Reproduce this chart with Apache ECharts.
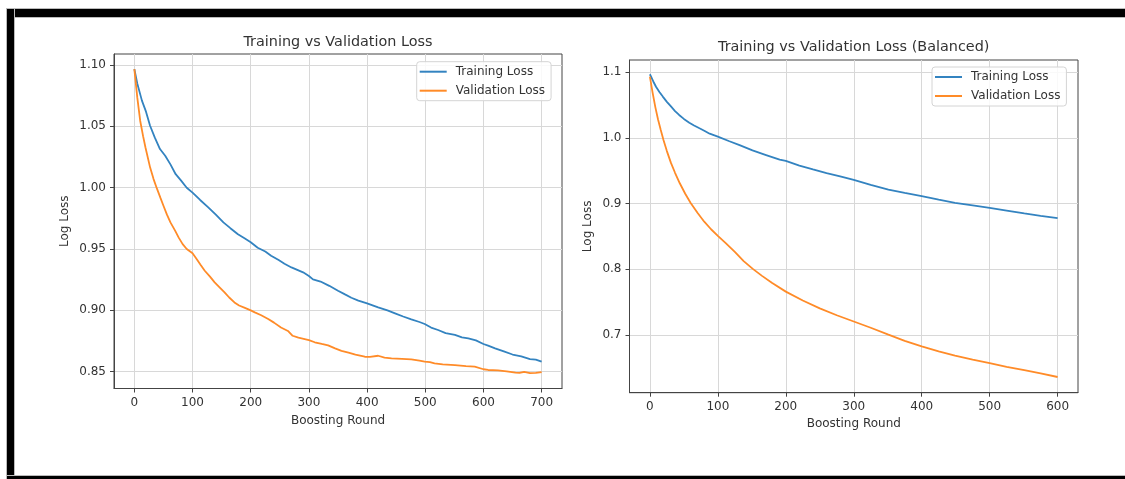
<!DOCTYPE html>
<html><head><meta charset="utf-8">
<script src="https://cdn.jsdelivr.net/npm/echarts@6/dist/echarts.min.js"></script>
<style>html,body{margin:0;padding:0;background:#fff}#c{width:1125px;height:479px}</style>
</head><body><div id="c"></div>
<script>
// ---- Left chart data ----
const roundsA = [0,5,13,20,27,35,44,53,62,71,80,90,100,113,127,140,153,165,178,190,200,212,225,235,248,258,270,280,290,300,307,320,335,350,362,373,385,400,419,435,448,462,476,490,499,510,522,535,551,563,574,587,600,608,620,635,650,665,680,690,700];
const trainA = [1.0967,1.085,1.071,1.062,1.0505,1.041,1.0315,1.026,1.019,1.011,1.006,1.000,0.996,0.990,0.984,0.978,0.9717,0.967,0.962,0.9585,0.9555,0.951,0.948,0.9446,0.941,0.938,0.935,0.933,0.931,0.928,0.9253,0.9235,0.920,0.916,0.913,0.9103,0.908,0.9057,0.9024,0.900,0.8976,0.895,0.8927,0.8905,0.8889,0.886,0.884,0.8815,0.880,0.878,0.8772,0.8755,0.8726,0.8712,0.869,0.8665,0.864,0.8625,0.8603,0.8598,0.8582];
const roundsAV = [0,5,10,15,19,27,33,39,45,50,56,62,70,76,83,90,100,107,114,121,130,138,146,155,163,172,180,190,200,207,218,230,240,252,264,272,282,300,310,322,333,345,356,368,380,396,405,419,430,442,460,476,490,499,508,516,530,551,570,585,600,608,625,640,655,662,670,680,690,700];
const validA = [1.0967,1.0736,1.0546,1.042,1.033,1.0166,1.007,0.999,0.9915,0.9853,0.978,0.9717,0.965,0.9595,0.954,0.950,0.9465,0.9418,0.937,0.9323,0.9275,0.9228,0.919,0.9147,0.9105,0.9065,0.904,0.902,0.900,0.8984,0.896,0.893,0.890,0.886,0.8832,0.8793,0.8777,0.8758,0.874,0.8726,0.8715,0.869,0.867,0.8655,0.864,0.8622,0.862,0.863,0.8615,0.8609,0.8605,0.860,0.859,0.8582,0.8578,0.8568,0.856,0.8554,0.8545,0.8541,0.852,0.8514,0.851,0.8503,0.8492,0.849,0.8498,0.8488,0.849,0.8497];
// ---- Right chart data ----
const roundsB = [0,5,9,14,19,25,31,37,43,50,58,65,73,80,88,100,117,132,151,171,191,200,220,240,260,280,300,325,351,375,400,425,449,475,500,525,551,575,600];
const trainB = [1.097,1.086,1.078,1.070,1.063,1.055,1.048,1.041,1.035,1.029,1.0233,1.019,1.0147,1.011,1.0065,1.002,0.995,0.989,0.981,0.974,0.967,0.965,0.958,0.952,0.9465,0.9415,0.936,0.9285,0.9215,0.9165,0.9115,0.906,0.9013,0.8973,0.8935,0.8895,0.8851,0.8815,0.8778];
const roundsBV = [0,4,8,12,16,20,25,31,37,44,52,60,70,80,90,100,112,125,138,151,165,180,200,225,250,275,300,325,351,375,400,425,449,475,500,525,551,575,600];
const validB = [1.0934,1.069,1.047,1.028,1.012,0.997,0.980,0.962,0.947,0.931,0.915,0.901,0.886,0.8725,0.861,0.851,0.8395,0.8265,0.8125,0.801,0.790,0.779,0.766,0.7525,0.7405,0.730,0.7205,0.711,0.7005,0.691,0.6825,0.675,0.6684,0.6625,0.6572,0.6515,0.6465,0.6415,0.636];
// ---- Ticks / labels ----
const xTicksA = [0,100,200,300,400,500,600,700];
const yTicksA = [0.85,0.90,0.95,1.00,1.05,1.10];
const xTicksB = [0,100,200,300,400,500,600];
const yTicksB = [0.7,0.8,0.9,1.0,1.1];
const titleA = 'Training vs Validation Loss';
const titleB = 'Training vs Validation Loss (Balanced)';
const seriesNames = ['Training Loss','Validation Loss'];
const xName = 'Boosting Round';
const yName = 'Log Loss';

const FONT = 'DejaVu Sans';
const BLUE = '#3383c0', ORANGE = '#ff8b28';
const pairs = (xs, ys) => xs.map((x, i) => [x, ys[i]]);

function xAxis(gi, min, max, ticks, gap) {
  return {
    type: 'value', gridIndex: gi, min, max,
    name: xName, nameLocation: 'middle', nameGap: gap,
    nameTextStyle: {fontFamily: FONT, fontSize: 12, color: '#333'},
    axisLine: {show: true, onZero: false, lineStyle: {color: '#444', width: 1}},
    axisTick: {show: true, length: 4, customValues: ticks, lineStyle: {color: '#444'}},
    axisLabel: {customValues: ticks, margin: 8, fontFamily: FONT, fontSize: 12, color: '#333'},
    splitLine: {show: true, lineStyle: {color: '#d8d8d8', width: 1}}
  };
}
function yAxis(gi, min, max, ticks, dec, gap) {
  return {
    type: 'value', gridIndex: gi, min, max,
    name: yName, nameLocation: 'middle', nameGap: gap, nameRotate: 90,
    nameTextStyle: {fontFamily: FONT, fontSize: 12, color: '#333'},
    axisLine: {show: true, onZero: false, lineStyle: {color: '#444', width: 1}},
    axisTick: {show: true, length: 4, customValues: ticks, lineStyle: {color: '#444'}},
    axisLabel: {customValues: ticks, margin: 8, fontFamily: FONT, fontSize: 12, color: '#333',
      formatter: v => Number(v).toFixed(dec)},
    splitLine: {show: true, lineStyle: {color: '#d8d8d8', width: 1}}
  };
}
function legend(left, top) {
  return {
    orient: 'vertical', left, top, icon: 'rect', itemWidth: 27, itemHeight: 2, itemGap: 5,
    padding: [3, 6, 3, 3], backgroundColor: 'rgba(255,255,255,0.85)',
    borderColor: '#d4d4d4', borderWidth: 1, borderRadius: 3,
    textStyle: {fontFamily: FONT, fontSize: 12, lineHeight: 14, color: '#333', padding: [0, 0, 0, 4]},
    data: seriesNames
  };
}
function line(name, xi, data, color) {
  return {
    type: 'line', name, xAxisIndex: xi, yAxisIndex: xi, data,
    symbol: 'none', showSymbol: false, smooth: false,
    lineStyle: {color, width: 1.8}, itemStyle: {color}, animation: false
  };
}

const chart = echarts.init(document.getElementById('c'), null, {renderer: 'canvas'});
chart.setOption({
  animation: false,
  backgroundColor: '#fff',
  grid: [
    {left: 114, top: 54, width: 448, height: 334.5, show: true, borderColor: '#444', borderWidth: 1, containLabel: false},
    {left: 629.5, top: 60, width: 448.5, height: 332.7, show: true, borderColor: '#444', borderWidth: 1, containLabel: false}
  ],
  xAxis: [xAxis(0, -35, 735, xTicksA, 26), xAxis(1, -30, 630, xTicksB, 25)],
  yAxis: [yAxis(0, 0.8363, 1.109, yTicksA, 2, 43), yAxis(1, 0.6121, 1.1187, yTicksB, 1, 36)],
  legend: [legend(416.7, 61.7), legend(932, 67)],
  series: [
    line(seriesNames[0], 0, pairs(roundsA, trainA), BLUE),
    line(seriesNames[1], 0, pairs(roundsAV, validA), ORANGE),
    line(seriesNames[0], 1, pairs(roundsB, trainB), BLUE),
    line(seriesNames[1], 1, pairs(roundsBV, validB), ORANGE)
  ],
  graphic: [
    {type: 'rect', shape: {x: 6, y: 8, width: 1119, height: 10}, style: {fill: '#bbb'}, silent: true},
    {type: 'rect', shape: {x: 7, y: 9, width: 1118, height: 8}, style: {fill: '#000'}, silent: true},
    {type: 'rect', shape: {x: 6, y: 8, width: 9, height: 471}, style: {fill: '#bbb'}, silent: true},
    {type: 'rect', shape: {x: 7, y: 9, width: 7, height: 470}, style: {fill: '#000'}, silent: true},
    {type: 'rect', shape: {x: 6, y: 475, width: 1119, height: 4}, style: {fill: '#bbb'}, silent: true},
    {type: 'rect', shape: {x: 7, y: 476, width: 1118, height: 3}, style: {fill: '#000'}, silent: true},
    {type: 'text', style: {text: titleA, x: 338, y: 42, textAlign: 'center', textVerticalAlign: 'middle',
      font: '14.4px "DejaVu Sans"', fill: '#333'}, silent: true},
    {type: 'text', style: {text: titleB, x: 853.7, y: 47, textAlign: 'center', textVerticalAlign: 'middle',
      font: '14.4px "DejaVu Sans"', fill: '#333'}, silent: true}
  ]
});
</script></body></html>
